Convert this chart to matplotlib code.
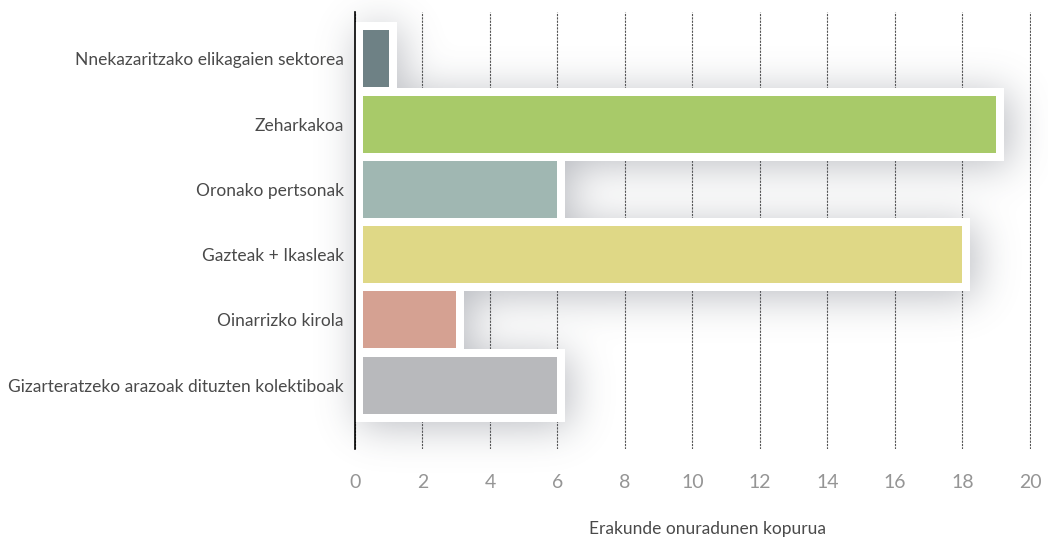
import matplotlib
matplotlib.use("Agg")
import matplotlib.pyplot as plt
import numpy as np

categories = ["Nnekazaritzako elikagaien sektorea", "Zeharkakoa", "Oronako pertsonak",
              "Gazteak + Ikasleak", "Oinarrizko kirola",
              "Gizarteratzeko arazoak dituzten kolektiboak"]
values = [1, 19, 6, 18, 3, 6]
colors = ["#6e8185", "#a8ca69", "#a0b7b2", "#dfd886", "#d5a192", "#b8b9bc"]
xticks = [0, 2, 4, 6, 8, 10, 12, 14, 16, 18, 20]
xlabel = "Erakunde onuradunen kopurua"

plt.rcParams['font.family'] = ['Lato', 'DejaVu Sans']

fig = plt.figure(figsize=(10.48, 5.4), dpi=100)
ax = fig.add_axes([355 / 1048, 1 - 449 / 540, 676 / 1048, 437 / 540])

xmin, xmax = 0, 20.03
ymin, ymax = -0.72, 5.98
ax.set_xlim(xmin, xmax)
ax.set_ylim(ymax, ymin)

# pixel scale of the axes
px_x = (676 / (xmax - xmin))
px_y = (437 / (ymax - ymin))
pad_x = 8 / px_x
pad_y = 8 / px_y
bar_h = 57 / px_y

ypos = np.arange(len(values))

# soft shadow behind the white boxes
ex0, ex1 = -2.5, 23.0
ey0, ey1 = -2.2, 7.4
W = int((ex1 - ex0) * px_x)
H = int((ey1 - ey0) * px_y)
xs = ex0 + (np.arange(W) + 0.5) / px_x
ys = ey0 + (np.arange(H) + 0.5) / px_y
off_x, off_y = 4 / px_x, 5 / px_y
mask = np.zeros((H, W))
for y, v in zip(ypos, values):
    inx = (xs >= 0 + off_x) & (xs <= v + pad_x + off_x)
    iny = (ys >= y - bar_h / 2 - pad_y + off_y) & (ys <= y + bar_h / 2 + pad_y + off_y)
    mask[np.ix_(iny, inx)] = 1.0
sigma = 20
k = np.arange(-3 * sigma, 3 * sigma + 1)
kern = np.exp(-k ** 2 / (2 * sigma ** 2))
kern /= kern.sum()
blur = np.apply_along_axis(lambda r: np.convolve(r, kern, mode="same"), 1, mask)
blur = np.apply_along_axis(lambda c: np.convolve(c, kern, mode="same"), 0, blur)
img = np.zeros((H, W, 4))
img[..., 0] = 0.36
img[..., 1] = 0.38
img[..., 2] = 0.43
img[..., 3] = blur * 0.42
ax.imshow(img, extent=(ex0, ex1, ey0, ey1), origin="lower", aspect="auto",
          interpolation="bilinear", zorder=1, clip_on=False)

# white frames
ax.barh(ypos, [v + pad_x for v in values], height=bar_h + 2 * pad_y, left=0,
        color="white", zorder=2, clip_on=False)
# coloured bars
ax.barh(ypos, [v - pad_x for v in values], height=bar_h, left=pad_x,
        color=colors, zorder=3, clip_on=False)

ax.set_xlim(xmin, xmax)
ax.set_ylim(ymax, ymin)

ax.set_xticks(xticks)
ax.set_xticklabels([str(t) for t in xticks], fontsize=14, color="#959595")
ax.set_yticks(ypos)
ax.set_yticklabels(categories, fontsize=12.5, color="#4a4a4a")
ax.tick_params(axis="x", length=0, pad=18)
ax.tick_params(axis="y", length=0, pad=8)
ax.set_xlabel(xlabel, fontsize=12.5, color="#4a4a4a")
ax.xaxis.set_label_coords(0.522, -0.165)

ax.xaxis.grid(True, color="#555555", linestyle=(0, (2, 1)), linewidth=0.8, zorder=0.5)
ax.set_axisbelow(True)
for s in ["top", "right", "bottom"]:
    ax.spines[s].set_visible(False)
ax.spines["left"].set_color("black")
ax.spines["left"].set_linewidth(1.2)
ax.spines["left"].set_zorder(5)

fig.savefig("out.png", dpi=100)
